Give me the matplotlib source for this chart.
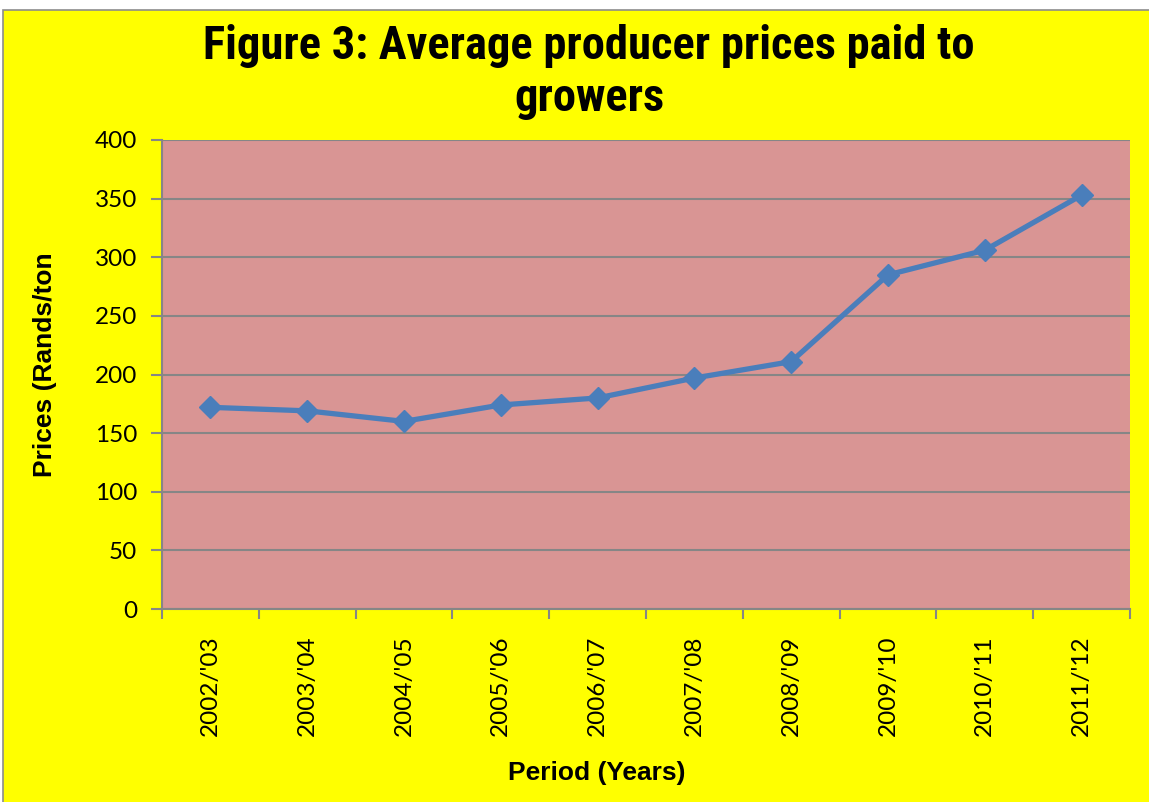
import numpy as np
import matplotlib.pyplot as plt
from matplotlib.patches import Rectangle

periods = ["2002/'03", "2003/'04", "2004/'05", "2005/'06", "2006/'07",
           "2007/'08", "2008/'09", "2009/'10", "2010/'11", "2011/'12"]
prices = [172, 169, 160, 174, 180, 197, 211, 285, 306, 353]
y_ticks = [0, 50, 100, 150, 200, 250, 300, 350, 400]

W, H = 1149, 802
fig = plt.figure(figsize=(W / 100, H / 100), dpi=100, facecolor='white')

# yellow chart area with a thin grey frame (white strip at top/left)
fig.patches.append(Rectangle((3 / W, -0.1), 1.2, 1 - 10 / H + 0.1,
                             transform=fig.transFigure, facecolor='#FFFF00',
                             edgecolor='#8C8C8C', linewidth=1.2, zorder=-5))

ax = fig.add_axes([162 / W, 1 - 609 / H, (1130 - 162) / W, (609 - 140) / H])
ax.set_zorder(2)
ax.set_facecolor('#D99594')

x = np.arange(len(periods))
ax.plot(x, prices, color='#4A7EBB', linewidth=3.8, marker='D', markersize=11,
        zorder=3, clip_on=False)

ax.set_xlim(-0.5, len(periods) - 0.5)
ax.set_ylim(0, 400)
ax.set_yticks(y_ticks)
ax.yaxis.grid(True, color='#868686', linewidth=1.5)
ax.set_axisbelow(True)

ax.set_xticks(x)
ax.set_xticklabels(periods, rotation=90, fontsize=17.5, family='Lato')
ax.set_xticks(np.arange(-0.5, len(periods)), minor=True)
ax.tick_params(axis='x', which='major', length=0, pad=19)
ax.tick_params(axis='x', which='minor', length=7, width=1.5, color='#868686')
ax.tick_params(axis='y', length=8, width=1.5, color='#868686', pad=10)
for lab in ax.get_yticklabels():
    lab.set_fontsize(17.5)
    lab.set_family('Lato')

for s in ['top', 'right']:
    ax.spines[s].set_visible(False)
for s in ['left', 'bottom']:
    ax.spines[s].set_color('#868686')
    ax.spines[s].set_linewidth(1.5)

fig.text(589 / W, 1 - 72 / H, 'Figure 3: Average producer prices paid to\ngrowers',
         ha='center', va='center', fontsize=33.5, fontweight='bold',
         family=['Liberation Sans Narrow', 'Roboto Condensed', 'Liberation Sans'],
         linespacing=1.2)
fig.text(45 / W, 1 - 365 / H, 'Prices (Rands/ton', rotation=90, ha='center',
         va='center', fontsize=19, fontweight='bold', family='Liberation Sans')
fig.text(597 / W, 1 - 773 / H, 'Period (Years)', ha='center', va='center',
         fontsize=19, fontweight='bold', family='Liberation Sans')

fig.savefig('out.png', dpi=100, facecolor=fig.get_facecolor())
